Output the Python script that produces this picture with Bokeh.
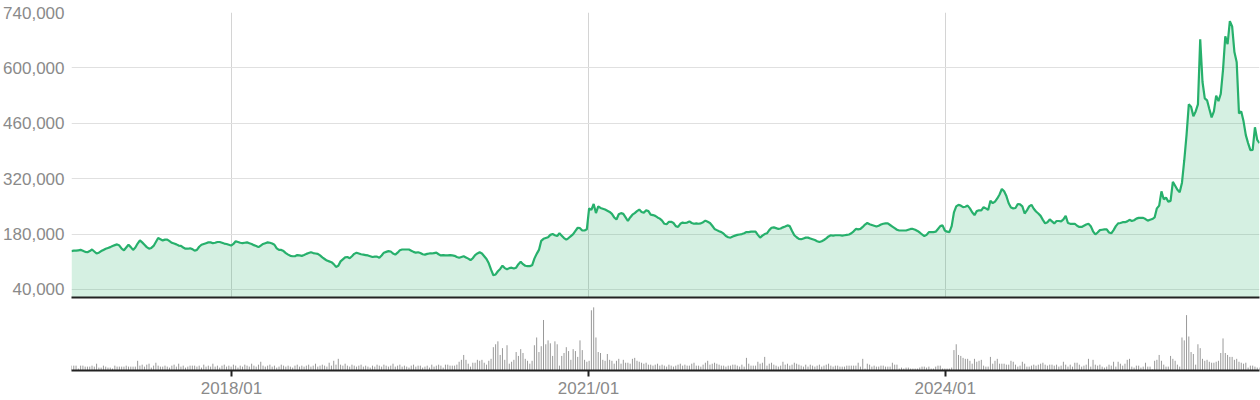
import numpy as np
import pandas as pd
from bokeh.plotting import figure
from bokeh.layouts import column
from bokeh.models import (Range1d, FixedTicker, NumeralTickFormatter,
                          DatetimeTickFormatter, ColumnDataSource, GlobalInlineStyleSheet)
from bokeh.embed import file_html
from bokeh.resources import INLINE

# ---------------- data ----------------
start_date = "2016-08-28"   # weekly observations

price_k = [
    137,138,138,139,140,138,135,134,137,141,
    136,131,133,137,140,143,145,147,150,152,
    154,151,143,139,146,153,147,140,146,156,
    164,159,153,147,143,145,150,160,170,167,
    164,166,166,162,158,156,154,151,150,146,
    143,143,144,142,138,140,148,153,155,157,
    159,159,157,158,160,160,158,156,155,153,
    151,155,162,160,158,157,158,159,157,155,
    152,150,147,151,155,157,159,158,156,153,
    144,140,140,137,132,128,125,124,124,127,
    126,125,127,130,132,134,132,131,130,126,
    121,117,113,111,109,104,97,100,111,116,
    121,122,119,124,130,133,131,129,128,127,
    126,124,122,123,123,120,126,133,135,137,
    136,131,128,133,139,141,141,141,141,138,
    135,133,134,132,129,128,130,131,131,132,
    133,129,126,127,126,126,127,126,125,122,
    120,122,124,121,118,114,119,127,131,134,
    131,124,117,106,90,76,78,86,92,100,
    94,91,94,95,93,95,104,110,104,100,
    99,99,101,118,130,140,163,168,170,172,
    178,180,177,175,182,176,170,166,170,175,
    180,188,196,195,189,189,192,245,241,256,
    233,250,246,244,242,239,236,231,222,217,
    230,233,231,222,213,222,229,233,238,242,
    236,234,240,238,229,228,226,222,219,214,
    206,205,211,211,208,200,198,206,209,208,
    209,212,208,206,207,206,207,210,214,211,
    208,201,193,190,187,185,181,175,172,171,
    174,176,178,179,180,182,185,185,186,186,
    186,178,171,176,180,182,190,196,197,
    195,193,194,197,199,202,200,188,177,172,
    168,167,169,171,171,169,167,165,162,160,
    162,165,169,174,177,176,177,177,177,176,
    177,178,179,182,187,193,192,193,198,204,
    208,205,203,201,199,201,204,206,207,207,
    203,199,195,191,189,189,189,189,191,193,
    193,191,188,184,179,175,178,185,185,185,
    186,193,200,202,189,186,185,200,235,250,
    254,252,248,249,252,245,235,228,238,240,
    240,248,245,241,264,258,262,270,280,294,
    288,276,258,247,245,246,256,255,250,232,
    240,250,254,244,237,232,226,216,207,210,
    217,212,207,213,213,212,217,226,208,206,
    206,206,201,198,198,201,204,206,200,187,
    179,184,190,191,192,192,184,182,190,200,
    207,208,210,210,212,216,213,215,219,221,
    221,221,218,214,216,218,222,245,252,288,
    268,272,262,264,312,302,292,286,310,366,
    430,508,502,478,490,508,672,565,523,518,
    496,475,490,530,516,534,595,680,660,718,
    705,640,614,485,490,465,430,410,392,393,
    450,418,410,
]

volume = [
    5,5,5,2,5,5,4,4,4,5, 4,7,3,3,5,4,3,3,2,5,
    4,4,4,4,5,4,4,4,4,10, 5,6,4,6,7,3,5,8,5,4,
    4,5,4,3,5,6,4,7,4,5, 3,4,5,5,5,
    4,5,3,6,4,5,4,7,4,5, 3,5,6,4,5,4,6,5,3,5,
    4,6,5,4,7,5,4,6,9,5, 4,5,6,4,5,3,4,6,5,4,
    5,4,3,5,6,4,5,4,5,6, 4,5,7,4,5,6,5,4,8,5,
    10,6,12,6,5,7,5,4,6,5, 4,5,6,4,5,4,3,5,4,6,
    5,4,6,5,4,5,7,4,5,6, 4,5,4,3,5,6,4,5,5,3,
    4,5,3,6,4,5,6,5,
    3,6,6,5,5,5,6,9,11,16, 11,7,4,8,8,11,10,11,8,6,
    10,12,24,27,30,16,23,11,26,7, 9,11,19,15,22,18,12,10,7,10,
    26,34,19,25,52,27,31,28,15,30, 27,5,15,18,24,20,11,22,20,14,
    31,21,11,9,10,62,65,34,19,18, 11,10,17,11,10,7,10,12,7,
    11,8,8,7,12,13,10,9,8,7, 8,6,6,5,6,7,5,6,5,4,
    6,5,4,5,6,7,5,6,5,5, 7,8,5,5,4,6,8,10,6,7,
    8,7,6,5,5,4,5,5,6,6, 5,4,6,4,13,7,5,5,5,
    9,7,8,14,5,7,8,6,5,4, 5,9,6,7,5,6,8,7,6,5,
    4,6,4,6,5,4,5,6,4,5, 6,7,5,4,5,5,4,
    4,4,5,5,5,5,5,8,4,12, 2,7,6,4,5,4,4,5,5,4,
    4,4,8,6,6,2,3,2,3,3, 2,2,2,2,3,4,4,3,4,2,
    2,4,5,5,2,2,2,2,3,21, 27,16,15,13,12,12,10,7,12,9,
    10,11,5,4,4,14,7,10,12,7, 7,7,6,6,10,9,6,4,5,9,
    7,4,4,5,6,5,6,7,8,6, 5,6,6,5,6,4,5,9,6,4,
    6,4,8,8,6,4,5,6,12,4, 11,6,5,6,4,3,4,6,5,9,
    4,9,
    7,5,7,11,12,4,3,5,5,3, 4,8,4,4,1,10,11,16,10,6,
    4,4,15,12,10,6,4,34,31,57, 35,19,17,6,27,23,12,10,11,9,
    8,8,9,10,18,33,18,16,14,14, 11,12,9,8,7,8,3,5,5,4,
    3,3,
]

y_ticks = [40000, 180000, 320000, 460000, 600000, 740000]
x_tick_dates = ["2018-01-01", "2021-01-01", "2024-01-01"]

# ---------------- build ----------------
n = min(len(price_k), len(volume))
dates = pd.date_range(start_date, periods=n, freq="7D")
price = np.array(price_k[:n], dtype=float) * 1000
vol = np.array(volume[:n], dtype=float)

y_lo, y_hi = 19700, 740000
src = ColumnDataSource(dict(date=dates, price=price, base=np.full(n, y_lo),
                            vol=vol, zero=np.zeros(n)))

x_range = Range1d(start=dates[0], end=dates[-1])
tick_ms = [pd.Timestamp(d).value / 1e6 for d in x_tick_dates]

FONT = "Liberation Sans"
LABEL_COLOR = "#8a8a8a"

# ---- price panel ----
p1 = figure(width=1260, height=300, x_axis_type="datetime", x_range=x_range,
            y_range=Range1d(y_lo, y_hi), output_backend="svg",
            toolbar_location=None, min_border_left=71, min_border_right=1,
            min_border_top=12, min_border_bottom=3)
p1.outline_line_color = None
p1.varea(x="date", y1="base", y2="price", source=src,
         fill_color="#2db36f", fill_alpha=0.2)
p1.line(x="date", y="price", source=src, line_color="#27b06c", line_width=2.2)

# bottom rule of the price panel: an axis with no ticks and no labels
p1.xaxis.ticker = FixedTicker(ticks=[])
p1.xaxis.axis_line_color = "#222222"
p1.xaxis.axis_line_width = 2
p1.xaxis.major_tick_out = 0
p1.xaxis.major_tick_in = 0
p1.xaxis.minor_tick_out = 0
p1.xaxis.minor_tick_in = 0
p1.xaxis.major_label_standoff = 0
p1.xgrid.ticker = FixedTicker(ticks=tick_ms)
p1.xgrid.grid_line_color = "#d4d4d4"
p1.xgrid.grid_line_width = 1

p1.yaxis.ticker = FixedTicker(ticks=y_ticks)
p1.yaxis.formatter = NumeralTickFormatter(format="0,0")
p1.yaxis.axis_line_color = None
p1.yaxis.major_tick_line_color = None
p1.yaxis.major_tick_out = 0
p1.yaxis.major_tick_in = 0
p1.yaxis.minor_tick_line_color = None
p1.yaxis.minor_tick_out = 0
p1.yaxis.major_label_standoff = 7
p1.yaxis.major_label_text_font = FONT
p1.yaxis.major_label_text_font_size = "17px"
p1.yaxis.major_label_text_color = LABEL_COLOR
p1.ygrid.grid_line_color = "#e0e0e0"
p1.ygrid.grid_line_width = 1

# ---- volume panel ----
p2 = figure(width=1260, height=100, x_axis_type="datetime", x_range=x_range,
            y_range=Range1d(0, 70), output_backend="svg",
            toolbar_location=None, min_border_left=71, min_border_right=1,
            min_border_top=2, min_border_bottom=28)
p2.outline_line_color = None
p2.segment(x0="date", y0="zero", x1="date", y1="vol", source=src,
           line_color="#999999", line_width=1)
p2.yaxis.visible = False
p2.grid.visible = False

ax = p2.xaxis[0]
ax.ticker = FixedTicker(ticks=tick_ms)
ax.formatter = DatetimeTickFormatter(
    days="%Y/%m", months="%Y/%m", years="%Y/%m", hours="%Y/%m",
    minutes="%Y/%m", seconds="%Y/%m", milliseconds="%Y/%m", microseconds="%Y/%m")
ax.axis_line_color = "#222222"
ax.axis_line_width = 2
ax.major_tick_line_color = "#222222"
ax.major_tick_line_width = 2
ax.major_tick_out = 6
ax.major_tick_in = 0
ax.minor_tick_line_color = None
ax.minor_tick_out = 0
ax.major_label_standoff = 2
ax.major_label_text_font = FONT
ax.major_label_text_font_size = "17px"
ax.major_label_text_color = LABEL_COLOR

layout = column(p1, p2, spacing=0,
                stylesheets=[GlobalInlineStyleSheet(css="body { margin: 0; }")])

open("out.html", "w").write(file_html(layout, INLINE))
